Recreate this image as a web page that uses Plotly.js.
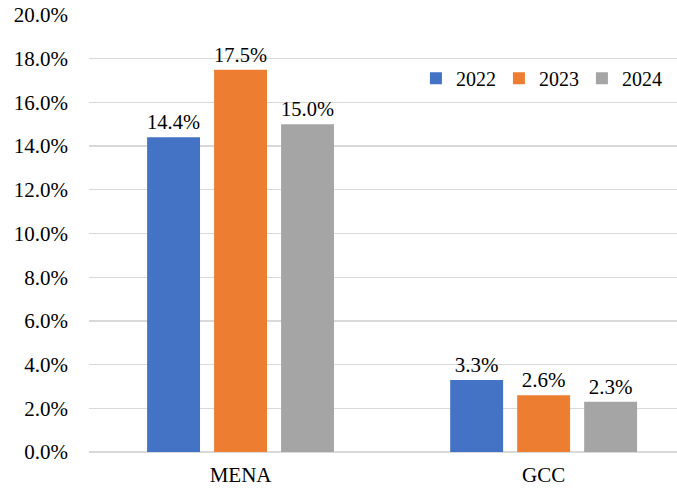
<!DOCTYPE html>
<html>
<head>
<meta charset="utf-8">
<script src="https://cdn.plot.ly/plotly-3.0.1.min.js"></script>
<style>
  html, body { margin: 0; padding: 0; background: #fff; }
  #chart { width: 677px; height: 492px; }
</style>
</head>
<body>
<div id="chart"></div>
<script>
const REGIONS = ["MENA", "GCC"];
const YEARS = ["2022", "2023", "2024"];
const COLORS = ["#4472c4", "#ed7d31", "#a5a5a5"];
const VALUES_2022 = [14.4, 3.3];
const VALUES_2023 = [17.5, 2.6];
const VALUES_2024 = [15.0, 2.3];
const Y_TICKS = [0, 2, 4, 6, 8, 10, 12, 14, 16, 18, 20];

const FONT = "Liberation Serif";
const seriesValues = [VALUES_2022, VALUES_2023, VALUES_2024];

const traces = YEARS.map((year, i) => ({
  type: "bar",
  name: year,
  x: REGIONS,
  y: seriesValues[i],
  marker: { color: COLORS[i] },
  text: seriesValues[i].map((v) => v.toFixed(1) + "%"),
  textposition: "outside",
  textfont: { family: FONT, size: 21, color: "#000" },
  cliponaxis: false,
  hoverinfo: "skip",
}));

const layout = {
  width: 677,
  height: 492,
  paper_bgcolor: "#fff",
  plot_bgcolor: "#fff",
  margin: { l: 89, r: 0, t: 15, b: 40 },
  font: { family: FONT, size: 21, color: "#000" },
  barmode: "group",
  bargap: 0.337,
  bargroupgap: 0.21,
  showlegend: true,
  legend: {
    orientation: "h",
    x: 0.556,
    xanchor: "left",
    y: 0.855,
    yanchor: "middle",
    bgcolor: "rgba(255,255,255,1)",
    font: { family: FONT, size: 20, color: "#000" },
    itemwidth: 30,
    itemgap: 0,
    entrywidth: 38,
    entrywidthmode: "pixels",
    traceorder: "normal",
  },
  xaxis: {
    type: "category",
    range: [-0.5, 1.44],
    showgrid: false,
    zeroline: false,
    showline: false,
    ticks: "",
    ticklabelstandoff: 8,
    tickfont: { family: FONT, size: 21, color: "#000" },
    fixedrange: true,
  },
  yaxis: {
    range: [0, 20],
    tickvals: Y_TICKS,
    ticktext: Y_TICKS.map((v) => v.toFixed(1) + "%"),
    showgrid: true,
    gridcolor: "#d9d9d9",
    gridwidth: 1.3,
    zeroline: true,
    zerolinecolor: "#d9d9d9",
    zerolinewidth: 1.3,
    showline: false,
    ticks: "",
    ticklabelstandoff: 20,
    tickfont: { family: FONT, size: 21, color: "#000" },
    fixedrange: true,
  },
};

Plotly.newPlot("chart", traces, layout, { displayModeBar: false, staticPlot: true });
</script>
</body>
</html>
